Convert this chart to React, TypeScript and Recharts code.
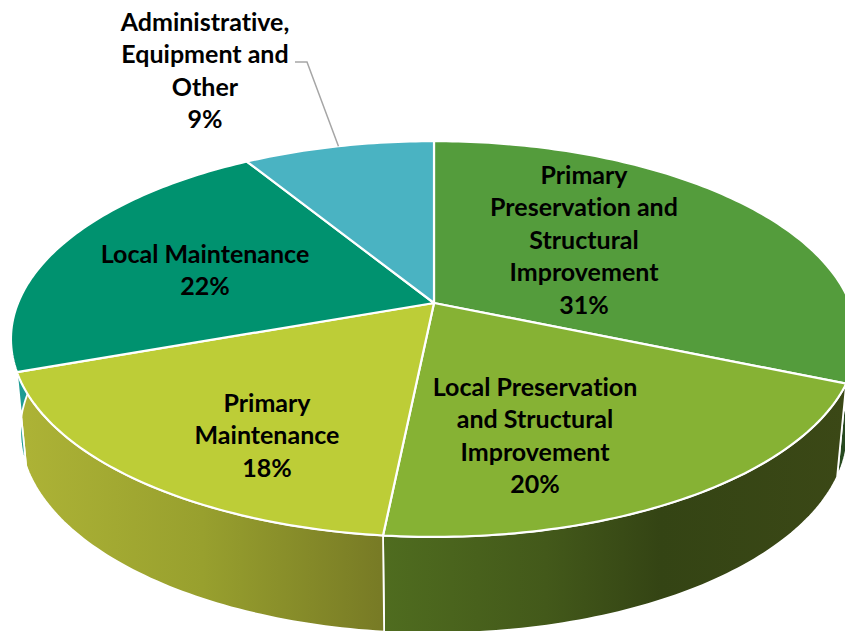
import { PieChart, Pie } from "recharts";

const CATEGORIES = [
  "Primary Preservation and Structural Improvement",
  "Local Preservation and Structural Improvement",
  "Primary Maintenance",
  "Local Maintenance",
  "Administrative, Equipment and Other",
];
// the printed labels are these rounded
const SHARES = [31.4, 20.2, 17.9, 21.8, 8.7];
const LABEL_LINES = [
  ["Primary", "Preservation and", "Structural", "Improvement"],
  ["Local Preservation", "and Structural", "Improvement"],
  ["Primary", "Maintenance"],
  ["Local Maintenance"],
  ["Administrative,", "Equipment and", "Other"],
];
const TOP_COLORS = ["#549c3c", "#86b234", "#bdcd37", "#00926f", "#4ab3c2"];
const WALL_FILLS = ["#27491f", "url(#wallGreen)", "url(#wallYellow)", "#1f9c94", "#4ab3c2"];

const LABEL_SPOTS = [
  { x: 584, y: 184 },
  { x: 535, y: 396 },
  { x: 267, y: 412 },
  { x: 205, y: 263 },
  { x: 205, y: 31 },
];
const LINE_HEIGHT = 32.4;

const data = CATEGORIES.map((name, i) => ({ name, value: SHARES[i] }));

// perspective: the hub sits above the middle of the rim ellipse
const TILT = 0.182;
const FLATTEN = 0.46;
const WALL_DROP = 92;
const WALL_SX = 0.978;
const WALL_SY = 1.018;

function rimPoint(cx: number, cy: number, r: number, deg: number) {
  const a = (deg * Math.PI) / 180;
  const d = 1 + TILT * Math.sin(a);
  return {
    x: cx + (r * Math.cos(a)) / d,
    y: cy - (r * FLATTEN * Math.sin(a)) / d,
  };
}

function arcPoints(cx: number, cy: number, r: number, from: number, to: number) {
  const n = Math.max(2, Math.ceil(Math.abs(to - from)));
  const pts = [];
  for (let i = 0; i <= n; i++) pts.push(rimPoint(cx, cy, r, from + ((to - from) * i) / n));
  return pts;
}

const toPath = (pts: { x: number; y: number }[]) =>
  pts.map((p, i) => `${i ? "L" : "M"}${p.x.toFixed(2)} ${p.y.toFixed(2)}`).join(" ") + " Z";

function TopSlice(props: any) {
  const { cx, cy, outerRadius, startAngle, endAngle, fill } = props;
  const pts = [{ x: cx, y: cy }, ...arcPoints(cx, cy, outerRadius, startAngle, endAngle)];
  return <path d={toPath(pts)} fill={fill} stroke="#fff" strokeWidth={2.2} strokeLinejoin="round" />;
}

function WallSlice(props: any) {
  const { cx, cy, outerRadius, startAngle, endAngle, index } = props;
  const top = arcPoints(cx, cy, outerRadius, startAngle, endAngle);
  const bottom = top
    .map((p) => ({
      x: cx + (p.x - cx) * WALL_SX,
      y: cy + WALL_DROP + (p.y - cy) * WALL_SY,
    }))
    .reverse();
  return (
    <path
      d={toPath([...top, ...bottom])}
      fill={WALL_FILLS[index]}
      stroke="#fff"
      strokeWidth={1.8}
      strokeLinejoin="round"
    />
  );
}

function SliceLabel(props: any) {
  const { index, percent, midAngle, cx, cy, outerRadius } = props;
  const spot = LABEL_SPOTS[index];
  const lines = [...LABEL_LINES[index], `${Math.round(percent * 100)}%`];
  const rim = rimPoint(cx, cy, outerRadius, midAngle);
  return (
    <g>
      {index === 4 && (
        <polyline
          points={`295,62 307,62 ${rim.x},${rim.y}`}
          fill="none"
          stroke="#a6a6a6"
          strokeWidth={1.5}
        />
      )}
      <text
        x={spot.x}
        y={spot.y}
        textAnchor="middle"
        fontFamily="Lato, sans-serif"
        fontWeight={700}
        fontSize={25}
        fill="#000"
        style={{ fontVariantLigatures: "none" }}
      >
        {lines.map((line, i) => (
          <tspan key={i} x={spot.x} y={spot.y + i * LINE_HEIGHT}>
            {line}
          </tspan>
        ))}
      </text>
    </g>
  );
}

export default function App() {
  const slices = data.map((d, i) => ({ ...d, fill: TOP_COLORS[i] }));
  return (
    <div style={{ width: 845, height: 631, overflow: "hidden", background: "#fff" }}>
      <style>{"body{margin:0}"}</style>
      <PieChart width={845} height={631} margin={{ top: 0, right: 0, bottom: 0, left: 0 }}>
        <defs>
          <linearGradient id="wallYellow" gradientUnits="userSpaceOnUse" x1={20} y1={0} x2={384} y2={0}>
            <stop offset="0" stopColor="#adb336" />
            <stop offset="0.5" stopColor="#98a02e" />
            <stop offset="1" stopColor="#777a25" />
          </linearGradient>
          <linearGradient id="wallGreen" gradientUnits="userSpaceOnUse" x1={384} y1={0} x2={845} y2={0}>
            <stop offset="0" stopColor="#4f6c1f" />
            <stop offset="0.35" stopColor="#43591a" />
            <stop offset="0.6" stopColor="#344414" />
            <stop offset="1" stopColor="#3b4816" />
          </linearGradient>
        </defs>
        <Pie
          data={slices}
          dataKey="value"
          cx={434}
          cy={303}
          outerRadius={416}
          startAngle={90}
          endAngle={-270}
          shape={WallSlice}
          isAnimationActive={false}
          rootTabIndex={-1}
        />
        <Pie
          data={slices}
          dataKey="value"
          cx={434}
          cy={303}
          outerRadius={416}
          startAngle={90}
          endAngle={-270}
          shape={TopSlice}
          label={SliceLabel}
          labelLine={false}
          isAnimationActive={false}
          rootTabIndex={-1}
        />
      </PieChart>
    </div>
  );
}
